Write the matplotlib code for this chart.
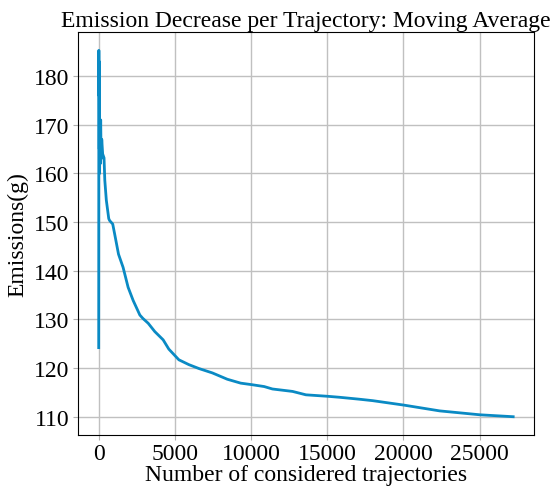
import numpy as np
import matplotlib.pyplot as plt

plt.rcParams['font.family'] = ['Liberation Serif', 'DejaVu Serif']

# Moving average of emissions
trajectories = [0, 10, 20, 30, 40, 50, 60, 80, 100, 130, 160, 200, 260, 350, 400,
                500, 660, 720, 920, 1050, 1300, 1600, 1930, 2260, 2700, 2900,
                3250, 3680, 4230, 4600, 5260, 5920, 6580, 7460, 8440, 9320,
                10020, 10860, 11400, 12720, 13600, 15020, 15790, 17100, 17980,
                20000, 22370, 25000, 27200]
emissions = [124.2, 185.3, 176.0, 183.0, 165.0, 178.0, 160.0, 168.0, 162.0, 171.0,
             163.0, 167.0, 164.0, 163.2, 158.6, 154.5, 150.7, 150.3, 149.6,
             147.5, 143.4, 140.7, 136.6, 133.9, 130.9, 130.2, 129.2, 127.5,
             125.8, 123.9, 121.7, 120.7, 119.9, 119.0, 117.7, 116.9, 116.6,
             116.2, 115.7, 115.2, 114.5, 114.2, 114.0, 113.6, 113.3, 112.4,
             111.2, 110.4, 110.0]

fig = plt.figure(figsize=(5.55, 4.89), dpi=100)
ax = fig.add_axes([0.1405, 0.1083, 0.8215, 0.8242])
ax.plot(trajectories, emissions, color='#0a8ac4', linewidth=2)
ax.set_title('Emission Decrease per Trajectory: Moving Average', fontsize=17, pad=4)
ax.set_xlabel('Number of considered trajectories', fontsize=17, labelpad=0)
ax.set_ylabel('Emissions(g)', fontsize=17, labelpad=4)
ax.set_xticks([0, 5000, 10000, 15000, 20000, 25000])
ax.set_yticks([110, 120, 130, 140, 150, 160, 170, 180])
ax.tick_params(labelsize=17, length=3.5, pad=2.5, color='#b0b0b0')
ax.grid(True, color='#c0c0c0', linewidth=1)
ax.set_axisbelow(True)

fig.savefig('out.png', dpi=100)
